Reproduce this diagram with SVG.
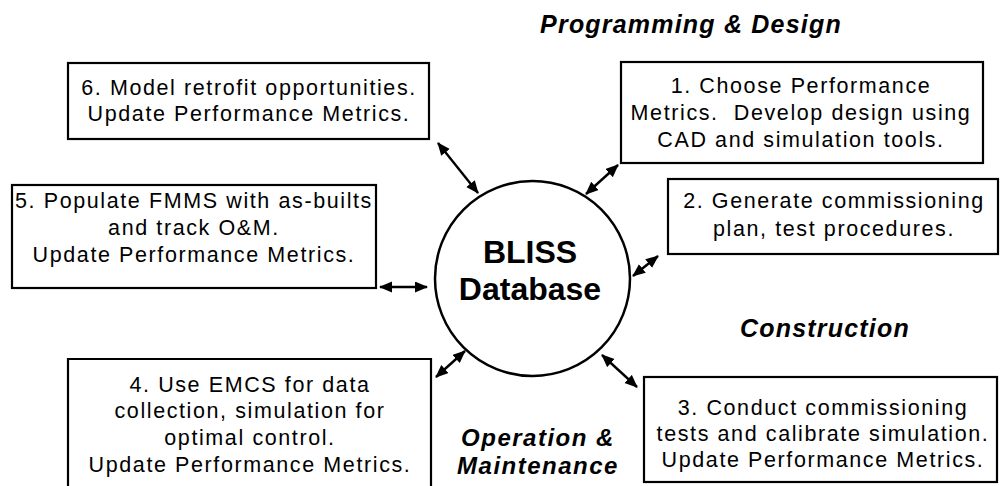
<svg xmlns="http://www.w3.org/2000/svg" width="1000" height="486" viewBox="0 0 1000 486">
<style>
.box{fill:#fff;stroke:#000;stroke-width:2.2}
.t{font-family:"Liberation Sans",Arial,sans-serif;font-size:21.5px;letter-spacing:1.6px;fill:#000;text-anchor:middle}
.h{font-family:"Liberation Sans",Arial,sans-serif;font-size:25px;font-weight:bold;font-style:italic;letter-spacing:1.2px;fill:#000;text-anchor:middle}
.h2{font-size:24px;letter-spacing:1.5px}
.c{font-family:"Liberation Sans",Arial,sans-serif;font-size:32px;font-weight:bold;fill:#000;text-anchor:middle}
.ln{stroke:#000;stroke-width:2.4;fill:none;marker-start:url(#ah);marker-end:url(#ah)}
</style>
<defs>
<marker id="ah" markerUnits="userSpaceOnUse" markerWidth="14" markerHeight="12" refX="12" refY="5.5" orient="auto-start-reverse" viewBox="0 0 14 12">
<path d="M0,0 L13,5.5 L0,11 z" fill="#000"/>
</marker>
</defs>
<rect width="1000" height="486" fill="#fff"/>
<g id="labels">
<text class="h" x="691" y="33">Programming &amp; Design</text>
<text class="h" x="825" y="337">Construction</text>
<text class="h h2" x="538" y="446">Operation &amp;</text>
<text class="h h2" x="538" y="473.5">Maintenance</text>
</g>
<g id="bliss">
<circle cx="532.5" cy="278.5" r="97.5" fill="#fff" stroke="#000" stroke-width="2.5"/>
<text class="c" x="530" y="263">BLISS</text>
<text class="c" x="530" y="300">Database</text>
</g>
<g id="n1">
<rect class="box" x="621" y="62" width="362" height="101"/>
<text class="t" x="801" y="93">1. Choose Performance</text>
<text class="t" x="801" y="120" xml:space="preserve">Metrics.  Develop design using</text>
<text class="t" x="801" y="147">CAD and simulation tools.</text>
</g>
<g id="n2">
<rect class="box" x="668" y="179" width="330" height="75"/>
<text class="t" x="834" y="208">2. Generate commissioning</text>
<text class="t" x="834" y="236">plan, test procedures.</text>
</g>
<g id="n3">
<rect class="box" x="644" y="377" width="353" height="105"/>
<text class="t" x="823" y="415">3. Conduct commissioning</text>
<text class="t" x="823" y="441">tests and calibrate simulation.</text>
<text class="t" x="823" y="467">Update Performance Metrics.</text>
</g>
<g id="n4">
<path class="box" d="M68,490 V359 H431 V490"/>
<text class="t" x="250" y="392">4. Use EMCS for data</text>
<text class="t" x="250" y="418">collection, simulation for</text>
<text class="t" x="250" y="445">optimal control.</text>
<text class="t" x="250" y="472">Update Performance Metrics.</text>
</g>
<g id="n5">
<rect class="box" x="12" y="185" width="364" height="103"/>
<text class="t" x="194" y="208">5. Populate FMMS with as-builts</text>
<text class="t" x="194" y="235">and track O&amp;M.</text>
<text class="t" x="194" y="262">Update Performance Metrics.</text>
</g>
<g id="n6">
<rect class="box" x="68" y="63" width="361" height="76"/>
<text class="t" x="249" y="95">6. Model retrofit opportunities.</text>
<text class="t" x="249" y="121">Update Performance Metrics.</text>
</g>
<g id="connectors">
<line class="ln" x1="438" y1="143" x2="478" y2="193"/>
<line class="ln" x1="618" y1="165" x2="586" y2="194"/>
<line class="ln" x1="658" y1="256" x2="633" y2="276"/>
<line class="ln" x1="380" y1="287" x2="427" y2="287"/>
<line class="ln" x1="436" y1="377" x2="465" y2="351"/>
<line class="ln" x1="602" y1="355" x2="637" y2="387"/>
</g>
</svg>
